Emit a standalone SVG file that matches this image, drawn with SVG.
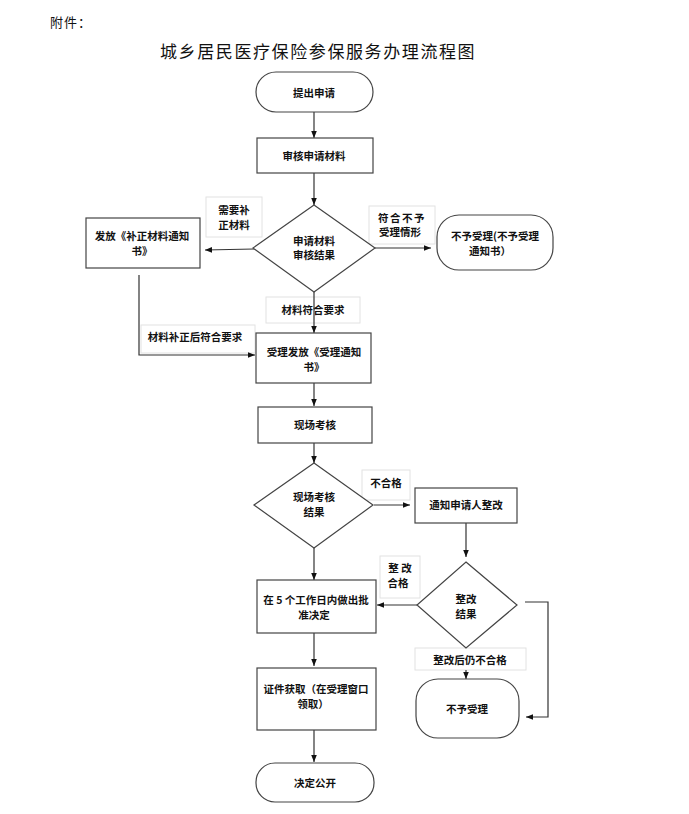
<svg xmlns="http://www.w3.org/2000/svg" width="689" height="814" viewBox="0 0 689 814">
<defs>
<marker id="arr" viewBox="0 0 10 10" refX="10" refY="5" markerWidth="7" markerHeight="7" markerUnits="userSpaceOnUse" orient="auto">
<path d="M0,1 L10,5 L0,9 z" fill="#111"/>
</marker>
<style>
.n{fill:#fff;stroke:#444;stroke-width:1.2}
.lb{fill:#fff;stroke:#e2e2e2;stroke-width:1}
.t{font-family:"Noto Sans CJK SC","Liberation Sans",sans-serif;font-size:10.5px;font-weight:700;fill:#111;text-anchor:middle}
.c{fill:none;stroke:#333;stroke-width:1.2}
.ca{fill:none;stroke:#333;stroke-width:1.2;marker-end:url(#arr)}
</style>
</defs>
<rect width="689" height="814" fill="#fff"/>
<text x="50" y="27" font-family="'Noto Sans CJK SC','Liberation Sans',sans-serif" font-size="13" fill="#111" letter-spacing="1">附件：</text>
<text x="160" y="58" font-family="'Noto Sans CJK SC','Liberation Sans',sans-serif" font-size="17" fill="#111" letter-spacing="1.6">城乡居民医疗保险参保服务办理流程图</text>

<g id="labels">
<rect class="lb" x="206" y="197" width="56" height="40"/>
<text class="t" x="234" y="214">需要补</text>
<text class="t" x="234" y="229">正材料</text>
<rect class="lb" x="369" y="206" width="66" height="38"/>
<text class="t" x="402" y="222" letter-spacing="1.5">符合不予</text>
<text class="t" x="400" y="236">受理情形</text>
<rect class="lb" x="266" y="297" width="94" height="26"/>
<text class="t" x="313" y="314">材料符合要求</text>
<rect class="lb" x="141" y="325" width="114" height="28"/>
<text class="t" x="195" y="341">材料补正后符合要求</text>
<rect class="lb" x="362" y="470" width="48" height="30"/>
<text class="t" x="386" y="487">不合格</text>
<rect class="lb" x="380" y="556" width="40" height="42"/>
<text class="t" x="400" y="572">整 改</text>
<text class="t" x="398" y="587">合格</text>
<rect class="lb" x="415" y="648" width="111" height="22"/>
<text class="t" x="470" y="664">整改后仍不合格</text>
</g>

<g id="connectors">
<line class="ca" x1="314" y1="112" x2="314" y2="138"/>
<line class="ca" x1="314" y1="173" x2="314" y2="205"/>
<line class="ca" x1="254" y1="249" x2="205" y2="250"/>
<line class="ca" x1="375" y1="248" x2="431" y2="248"/>
<line class="ca" x1="314" y1="292" x2="314" y2="333"/>
<polyline class="ca" points="139,275 139,355 255,355"/>
<line class="ca" x1="314" y1="383" x2="314" y2="406"/>
<line class="ca" x1="314" y1="443" x2="314" y2="463"/>
<line class="ca" x1="374" y1="505" x2="410" y2="505"/>
<line class="ca" x1="466" y1="523" x2="466" y2="557"/>
<line class="ca" x1="314" y1="548" x2="314" y2="580"/>
<line class="ca" x1="417" y1="605" x2="377" y2="605"/>
<line class="ca" x1="314" y1="633" x2="314" y2="666"/>
<line class="ca" x1="466" y1="670" x2="466" y2="679"/>
<polyline class="ca" points="525,602 548,602 548,717 526,717"/>
<line class="ca" x1="314" y1="730" x2="314" y2="762"/>
</g>

<g id="n1"><rect class="n" x="256" y="72" width="117" height="40" rx="20"/><text class="t" x="314" y="97">提出申请</text></g>
<g id="n2"><rect class="n" x="257" y="138" width="116" height="35"/><text class="t" x="314" y="160">审核申请材料</text></g>
<g id="n3"><polygon class="n" points="314,205 375,248 314,292 253,248"/><text class="t" x="314" y="245">申请材料</text><text class="t" x="314" y="259">审核结果</text></g>
<g id="n4"><rect class="n" x="86" y="218" width="114" height="50"/><text class="t" x="142" y="240">发放《补正材料通知</text><text class="t" x="142" y="255">书》</text></g>
<g id="n5"><rect class="n" x="437" y="215" width="116" height="55" rx="22"/><text class="t" x="495" y="240">不予受理(不予受理</text><text class="t" x="490" y="255">通知书）</text></g>
<g id="n6"><rect class="n" x="256" y="333" width="115" height="50"/><text class="t" x="314" y="356">受理发放《受理通知</text><text class="t" x="314" y="371">书》</text></g>
<g id="n7"><rect class="n" x="258" y="407" width="114" height="36"/><text class="t" x="315" y="429">现场考核</text></g>
<g id="n8"><polygon class="n" points="314,463 373,505 314,548 254,505"/><text class="t" x="314" y="501">现场考核</text><text class="t" x="314" y="516">结果</text></g>
<g id="n9"><rect class="n" x="415" y="488" width="102" height="35"/><text class="t" x="466" y="509">通知申请人整改</text></g>
<g id="n10"><polygon class="n" points="466,562 517,605 466,648 417,605"/><text class="t" x="466" y="603">整改</text><text class="t" x="466" y="618">结果</text></g>
<g id="n11"><rect class="n" x="257" y="580" width="119" height="53"/><text class="t" x="316" y="604">在 5 个工作日内做出批</text><text class="t" x="314" y="619">准决定</text></g>
<g id="n12"><rect class="n" x="257" y="668" width="119" height="62"/><text class="t" x="316" y="693">证件获取（在受理窗口</text><text class="t" x="313" y="708">领取）</text></g>
<g id="n13"><rect class="n" x="256" y="763" width="118" height="39" rx="19"/><text class="t" x="315" y="787">决定公开</text></g>
<g id="n14"><rect class="n" x="416" y="679" width="103" height="59" rx="22"/><text class="t" x="467" y="713">不予受理</text></g>
</svg>
